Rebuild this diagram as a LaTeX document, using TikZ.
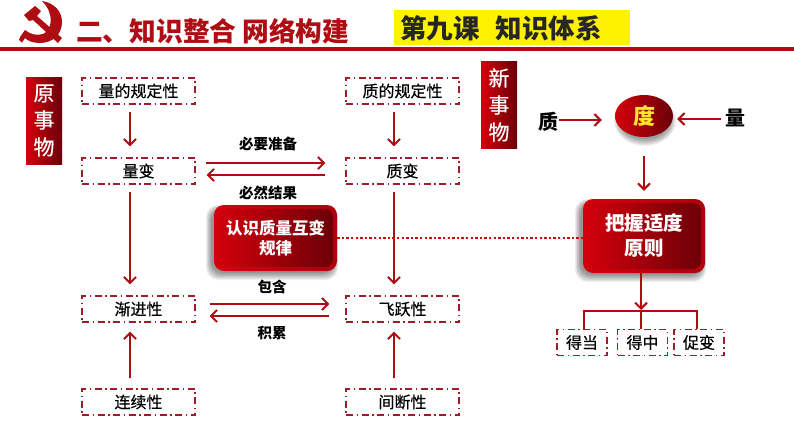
\documentclass[tikz,border=0pt]{standalone}
\usepackage{fontspec}
\setmainfont{Noto Sans CJK SC}
\newfontfamily\boxfont[FakeBold=0.5]{Noto Sans CJK SC}
\usetikzlibrary{arrows.meta,calc,shapes.geometric}
\definecolor{rd}{HTML}{AE0D13}
\definecolor{dashrd}{HTML}{9E1B2A}
\definecolor{brt}{HTML}{D4000C}
\definecolor{drk}{HTML}{6A0008}
\definecolor{B0000C}{HTML}{B0000C}
\tikzset{
  x=1pt,y=-1pt,
  dbox/.style={draw=dashrd,line width=1.3pt,dash pattern=on 7pt off 3.5pt on 1.5pt off 3.5pt,minimum height=26pt,inner sep=0pt,text=black,font=\boxfont\fontsize{16}{18}\selectfont},
  wbox/.style={dbox,minimum width=113pt},
  sbox/.style={dbox,minimum width=50pt},
  arr/.style={draw=rd,line width=2.4pt,-{Straight Barb[length=6pt,width=12pt,line width=2pt]}},
  plain/.style={draw=rd,line width=2.4pt},
  lab/.style={inner sep=0pt,text=black,font=\fontsize{14.5}{16}\selectfont\bfseries},
  tag/.style={left color=brt,right color=drk,minimum width=36pt,minimum height=87pt,inner sep=0pt,text=white,align=center,font=\boxfont\fontsize{21}{27}\selectfont},
  rbox/.style={rounded corners=10pt,draw=none,left color=brt,right color=B0000C,inner sep=0pt,text=white,align=center,
    path picture={\shade[left color=brt,right color=drk,rounded corners=8pt] ([shift={(1pt,4pt)}]path picture bounding box.south west) rectangle ([shift={(-4pt,-4pt)}]path picture bounding box.north east);}},
  big/.style={inner sep=0pt,text=black,font=\fontsize{20}{22}\selectfont\bfseries},
}
\newcommand{\softshade}[4]{%
  \foreach \k in {0,...,8}{
    \fill[black,opacity=.055,rounded corners=12pt] (#1-8+\k*.7,#2+\k*.5) rectangle (#3+1-\k*.5,#4+9-\k*.9);
  }}
\begin{document}
\begin{tikzpicture}
\useasboundingbox (0,0) rectangle (794,447);
\fill[white] (0,0) rectangle (794,447);
% header
\fill[rd] (0,47) rectangle (794,51);
\fill[rd] (42,1) .. controls (55,3) and (62,12) .. (62,22) .. controls (62,35) and (52,43) .. (40,43) .. controls (33,43) and (28,41) .. (25,38) -- (22,42.5) -- (19,40) -- (20,37) -- (25,30) .. controls (30,34) and (36,36) .. (43,34) .. controls (52,30) and (55,14) .. (42,1) -- cycle;
\fill[rd] (24,15) -- (35,6) -- (41,11) -- (37,16) -- (62,38) -- (58,43) -- (33,20) -- (29,21) -- cycle;
\node[inner sep=0pt,text=rd,anchor=west,font=\fontsize{26.7}{28}\selectfont\bfseries] (title) at (76,31) {二、知识整合 网络构建};
\node[fill=yellow,minimum width=236pt,minimum height=35pt,inner sep=0pt] (ybar) at (512,27.5) {};
\node[inner sep=0pt,anchor=west,text=black!85,font=\fontsize{26.5}{28}\selectfont\bfseries] (ytext) at (400,28) {第九课\hspace{16pt}知识体系};
% tags
\node[tag] (yuan) at (44,120.5) {原\\事\\物};
\node[tag] (xin) at (499,105) {新\\事\\物};
% left boxes
\node[wbox] (a1) at (138.5,91) {量的规定性};
\node[wbox] (a2) at (138.5,171) {量变};
\node[wbox] (a3) at (138.5,309) {渐进性};
\node[wbox] (a4) at (138.5,402) {连续性};
\node[wbox] (b1) at (402.5,91) {质的规定性};
\node[wbox] (b2) at (402.5,171) {质变};
\node[wbox] (b3) at (402.5,309) {飞跃性};
\node[wbox] (b4) at (402.5,402) {间断性};
% vertical arrows
\foreach \p/\q in {a1/a2,a2/a3,b1/b2,b2/b3}{
  \draw[arr] ([xshift=-8.5pt,yshift=-7pt]\p.south) -- ([xshift=-8.5pt,yshift=11pt]\q.north);
}
\foreach \p/\q in {a4/a3,b4/b3}{
  \draw[arr] ([xshift=-8.5pt,yshift=10pt]\p.north) -- ([xshift=-8.5pt,yshift=-9pt]\q.south);
}
% horizontal arrows
\draw[arr] ([xshift=10pt,yshift=8pt]a2.east) -- ([xshift=-20pt,yshift=8pt]b2.west);
\draw[arr] ([xshift=-20pt,yshift=-4pt]b2.west) -- ([xshift=11pt,yshift=-4pt]a2.east);
\draw[arr] ([xshift=14pt,yshift=5pt]a3.east) -- ([xshift=-16pt,yshift=5pt]b3.west);
\draw[arr] ([xshift=-16pt,yshift=-7pt]b3.west) -- ([xshift=14pt,yshift=-7pt]a3.east);
\node[lab] (l1) at (268,144) {必要准备};
\node[lab] (l2) at (268,193) {必然结果};
\node[lab] (l3) at (272,287) {包含};
\node[lab] (l4) at (272,333) {积累};
% shadows
\softshade{214}{205}{337}{271}
\softshade{583}{199}{705}{273}
\foreach \k in {0,...,8}{
  \fill[black,opacity=.05] (645,121) ellipse ({31-\k*.8} and {25-\k*.9});
}
% centre boxes
\node[rbox,minimum width=123pt,minimum height=66pt,font=\fontsize{16.5}{20}\selectfont\bfseries] (law) at (275.5,238) {认识质量互变\\规律};
\node[rbox,minimum width=122pt,minimum height=74pt,font=\fontsize{19.5}{25}\selectfont\bfseries] (rule) at (644,236) {把握适度\\原则};
\draw[brt,line width=2.4pt,dash pattern=on 2.4pt off 2.2pt] (law.east) -- (law.east -| rule.west);
% degree
\node[ellipse,left color=brt,right color=drk,minimum width=58pt,minimum height=42pt,inner sep=0pt,text={rgb,255:red,255;green,230;blue,40},font=\fontsize{22}{24}\selectfont\bfseries] (du) at (644,116) {度};
\node[big] (zhi) at (548,122) {质};
\node[big] (liang) at (735,118) {量};
\draw[arr] ([xshift=1pt,yshift=2pt]zhi.east) -- ([xshift=-13pt,yshift=-4pt]du.west);
\draw[arr] ([xshift=-4pt,yshift=-1pt]liang.west) -- ([xshift=4pt,yshift=-3pt]du.east);
\draw[arr] ([yshift=-19pt]du.south) -- ([yshift=8pt]rule.north);
% tree
\node[sbox] (c1) at (582,342.5) {得当};
\node[sbox] (c2) at (642.5,342.5) {得中};
\node[sbox] (c3) at (699,342.5) {促变};
\coordinate (fork) at (641,311);
\draw[arr] (rule.south -| fork) -- ([yshift=1pt]fork);
\draw[plain] (c1.north -| 584,0) |- (fork) -| (c3.north -| 697,0);
\draw[plain] (fork) -- (fork |- c2.north);
\end{tikzpicture}
\end{document}
